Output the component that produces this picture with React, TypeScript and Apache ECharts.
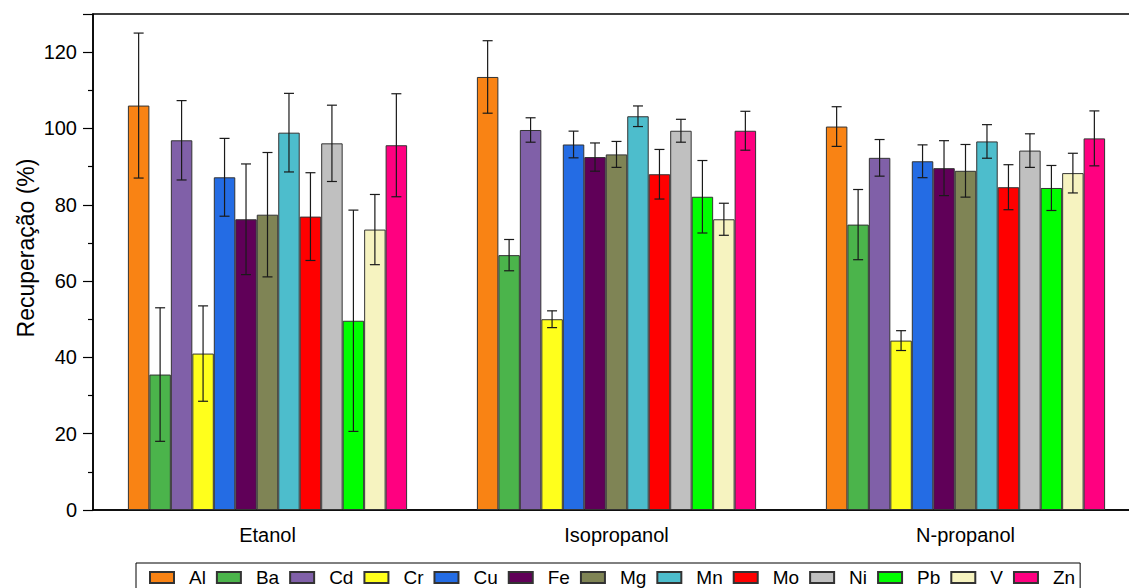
import React, { useEffect, useRef } from "react";
import * as echarts from "echarts";

const categories = ["Etanol", "Isopropanol", "N-propanol"];
const elements = ["Al", "Ba", "Cd", "Cr", "Cu", "Fe", "Mg", "Mn", "Mo", "Ni", "Pb", "V", "Zn"];
const colors = ["#F98314", "#4BB44B", "#8060A8", "#FFFF1C", "#246CE4", "#600058", "#7F8455", "#4DBDCC", "#FF0000", "#C0C0C0", "#00FF00", "#F6F3C0", "#FF0080"];

const etanolMean = [106.0, 35.5, 96.9, 41.0, 87.2, 76.2, 77.4, 98.9, 76.9, 96.1, 49.6, 73.5, 95.6];
const etanolErr = [19.0, 17.5, 10.4, 12.5, 10.2, 14.5, 16.3, 10.3, 11.5, 10.0, 29.0, 9.2, 13.5];
const isoMean = [113.5, 66.8, 99.6, 50.0, 95.8, 92.5, 93.2, 103.2, 88.0, 99.4, 82.1, 76.2, 99.4];
const isoErr = [9.5, 4.1, 3.2, 2.2, 3.5, 3.7, 3.4, 2.7, 6.5, 3.0, 9.5, 4.2, 5.1];
const nproMean = [100.5, 74.8, 92.3, 44.4, 91.4, 89.6, 88.9, 96.6, 84.6, 94.2, 84.4, 88.3, 97.4];
const nproErr = [5.2, 9.2, 4.8, 2.6, 4.3, 7.2, 6.9, 4.4, 5.9, 4.4, 5.9, 5.2, 7.2];

const yTicks = [0, 20, 40, 60, 80, 100, 120];

const FONT = "'Liberation Sans', Arial, sans-serif";

export default function App() {
  const ref = useRef<HTMLDivElement>(null);
  useEffect(() => {
    if (!ref.current) return;
    const chart = echarts.init(ref.current, null, { renderer: "svg" });
    const means = [etanolMean, isoMean, nproMean];
    const errs = [etanolErr, isoErr, nproErr];
    const n = elements.length;

    const barSeries = elements.map((el, k) => ({
      name: el,
      type: "bar",
      data: means.map((m) => m[k]),
      barGap: "0%",
      barCategoryGap: "20%",
      itemStyle: { color: colors[k], borderColor: "#333", borderWidth: 1 },
      z: 2,
    }));

    const errData: number[][] = [];
    for (let c = 0; c < categories.length; c++) {
      for (let k = 0; k < n; k++) {
        errData.push([c, k, means[c][k] - errs[c][k], means[c][k] + errs[c][k]]);
      }
    }

    const errorSeries = {
      type: "custom",
      name: "err",
      z: 5,
      encode: { x: 0, y: [2, 3] },
      data: errData,
      renderItem: (params: any, api: any) => {
        const c = api.value(0);
        const k = api.value(1);
        const band = api.size([1, 0])[0];
        const bw = (band * 0.8) / n;
        const center = api.coord([c, 0])[0];
        const x = center + (k - (n - 1) / 2) * bw;
        const yLow = api.coord([c, api.value(2)])[1];
        const yHigh = api.coord([c, api.value(3)])[1];
        const cap = 5;
        const style = { stroke: "#1a1a1a", lineWidth: 1.2 };
        return {
          type: "group",
          children: [
            { type: "line", shape: { x1: x, y1: yLow, x2: x, y2: yHigh }, style },
            { type: "line", shape: { x1: x - cap, y1: yHigh, x2: x + cap, y2: yHigh }, style },
            { type: "line", shape: { x1: x - cap, y1: yLow, x2: x + cap, y2: yLow }, style },
          ],
        };
      },
    };

    chart.setOption({
      animation: false,
      textStyle: { fontFamily: FONT },
      grid: {
        left: 93,
        top: 14,
        right: 20,
        bottom: 78,
        show: true,
        borderColor: "#000",
        borderWidth: 1.5,
        backgroundColor: "transparent",
      },
      legend: {
        data: elements,
        left: 136,
        top: 563,
        orient: "horizontal",
        icon: "rect",
        itemWidth: 24,
        itemHeight: 11,
        itemGap: 10,
        padding: [5, 5, 8, 13],
        borderColor: "#000",
        borderWidth: 1,
        textStyle: { fontSize: 19, color: "#000", fontFamily: FONT, padding: [0, 0, 0, 10] },
        selectedMode: false,
      },
      xAxis: {
        type: "category",
        data: categories,
        axisLine: { lineStyle: { color: "#000", width: 1.5 } },
        axisTick: { alignWithLabel: true, length: 10, lineStyle: { color: "#000", width: 1.5 } },
        axisLabel: { fontSize: 20, color: "#000", margin: 15, fontFamily: FONT },
        splitLine: { show: false },
      },
      yAxis: {
        type: "value",
        min: 0,
        max: 130,
        interval: 20,
        axisLine: { show: true, lineStyle: { color: "#000", width: 1.5 } },
        axisTick: { show: true, length: 10, lineStyle: { color: "#000", width: 1.2 } },
        minorTick: { show: true, splitNumber: 2, length: 5, lineStyle: { color: "#000", width: 1.2 } },
        axisLabel: {
          fontSize: 20,
          color: "#000",
          margin: 16,
          fontFamily: FONT,
          formatter: (v: number) => (yTicks.indexOf(v) >= 0 ? String(v) : ""),
        },
        splitLine: { show: false },
      },
      graphic: [
        {
          type: "text",
          x: 26,
          y: 248,
          rotation: Math.PI / 2,
          style: {
            text: "Recuperação (%)",
            fontSize: 23,
            fontFamily: FONT,
            fill: "#000",
            align: "center",
            verticalAlign: "middle",
          },
        },
      ],
      series: [...barSeries, errorSeries],
    });
    return () => chart.dispose();
  }, []);
  return (
    <div
      ref={ref}
      style={{ position: "fixed", left: 0, top: 0, width: 1160, height: 588, background: "#fff" }}
    />
  );
}
